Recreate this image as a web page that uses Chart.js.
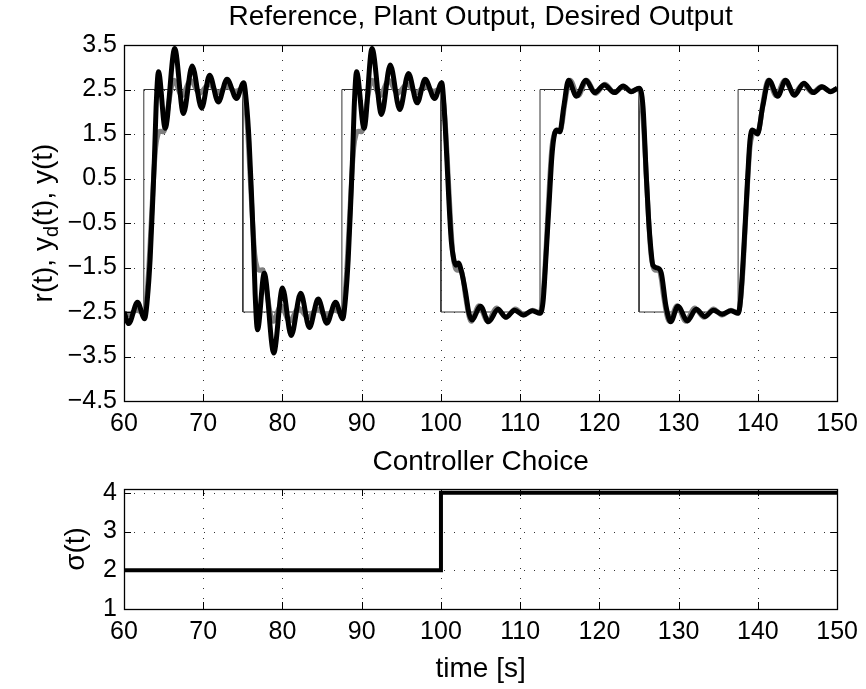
<!DOCTYPE html>
<html>
<head>
<meta charset="utf-8">
<script src="https://cdn.jsdelivr.net/npm/chart.js@4.4.0/dist/chart.umd.min.js"></script>
<style>
  body { margin: 0; background: #fff; }
  #wrap { position: relative; width: 866px; height: 689px; }
  canvas { position: absolute; left: 0; }
</style>
</head>
<body>
<div id="wrap">
  <canvas id="top" width="866" height="440" style="top:0"></canvas>
  <canvas id="bottom" width="866" height="249" style="top:440px"></canvas>
</div>
<script>
// tick labels
const xTicks = [60, 70, 80, 90, 100, 110, 120, 130, 140, 150];
const yTicksTop = [-4.5, -3.5, -2.5, -1.5, -0.5, 0.5, 1.5, 2.5, 3.5];
const yTicksBottom = [1, 2, 3, 4];

// reference r(t)
const refT = [60, 62.5, 62.5, 75, 75, 87.5, 87.5, 100, 100, 112.5, 112.5, 125, 125, 137.5, 137.5, 150];
const refY = [-2.5, -2.5, 2.5, 2.5, -2.5, -2.5, 2.5, 2.5, -2.5, -2.5, 2.5, 2.5, -2.5, -2.5, 2.5, 2.5];

// desired output y_d(t)
const desiredT = [
  60, 60.5, 61.6, 62.5,
  62.8, 63.1, 63.4, 63.7, 64.0, 64.3, 64.6, 65.0, 65.3, 65.6, 66.3, 67.3, 68.4, 69.5, 70.7, 71.9, 73.0, 74.1, 75.0,
  75.3, 75.6, 75.9, 76.2, 76.5, 76.8, 77.1, 77.5, 77.8, 78.1, 78.8, 79.8, 80.9, 82.0, 83.2, 84.4, 85.5, 86.6, 87.5,
  87.8, 88.1, 88.4, 88.7, 89.0, 89.3, 89.6, 90.0, 90.3, 90.6, 91.3, 92.3, 93.4, 94.5, 95.7, 96.9, 98.0, 99.1, 100.0,
  100.3, 100.6, 100.9, 101.2, 101.5, 101.8, 102.1, 102.5, 102.8, 103.1, 103.8, 104.8, 105.9, 107.0, 108.2, 109.4, 110.5, 111.6, 112.5,
  112.8, 113.1, 113.4, 113.7, 114.0, 114.3, 114.6, 115.0, 115.3, 115.6, 116.3, 117.3, 118.4, 119.5, 120.7, 121.9, 123.0, 124.1, 125.0,
  125.3, 125.6, 125.9, 126.2, 126.5, 126.8, 127.1, 127.5, 127.8, 128.1, 128.8, 129.8, 130.9, 132.0, 133.2, 134.4, 135.5, 136.6, 137.5,
  137.8, 138.1, 138.4, 138.7, 139.0, 139.3, 139.6, 140.0, 140.3, 140.6, 141.3, 142.3, 143.4, 144.5, 145.7, 146.9, 148.0, 149.1, 150.0
];
const desiredY = [
  -2.54, -2.57, -2.46, -2.52,
  -2.25, -1.6, -0.6, 0.4, 1.2, 1.5, 1.56, 1.55, 1.75, 2.15, 2.71, 2.36, 2.71, 2.41, 2.62, 2.43, 2.57, 2.46, 2.52,
  2.25, 1.6, 0.6, -0.4, -1.2, -1.5, -1.56, -1.55, -1.75, -2.15, -2.71, -2.36, -2.71, -2.41, -2.62, -2.43, -2.57, -2.46, -2.52,
  -2.25, -1.6, -0.6, 0.4, 1.2, 1.5, 1.56, 1.55, 1.75, 2.15, 2.71, 2.36, 2.71, 2.41, 2.62, 2.43, 2.57, 2.46, 2.52,
  2.25, 1.6, 0.6, -0.4, -1.2, -1.5, -1.56, -1.55, -1.75, -2.15, -2.71, -2.36, -2.71, -2.41, -2.62, -2.43, -2.57, -2.46, -2.52,
  -2.25, -1.6, -0.6, 0.4, 1.2, 1.5, 1.56, 1.55, 1.75, 2.15, 2.71, 2.36, 2.71, 2.41, 2.62, 2.43, 2.57, 2.46, 2.52,
  2.25, 1.6, 0.6, -0.4, -1.2, -1.5, -1.56, -1.55, -1.75, -2.15, -2.71, -2.36, -2.71, -2.41, -2.62, -2.43, -2.57, -2.46, -2.52,
  -2.25, -1.6, -0.6, 0.4, 1.2, 1.5, 1.56, 1.55, 1.75, 2.15, 2.71, 2.36, 2.71, 2.41, 2.62, 2.43, 2.57, 2.46, 2.52
];

// plant output y(t)
const plantT = [
  60.0, 60.6, 61.7, 62.6,
  62.95, 63.3, 63.6, 63.85, 64.05, 64.35, 65.2, 66.4, 67.5, 68.6, 69.8, 70.8, 71.9, 73.0, 74.2, 75.1,
  75.45, 75.8, 76.1, 76.35, 76.55, 76.85, 77.7, 78.9, 80.0, 81.1, 82.3, 83.4, 84.5, 85.6, 86.7, 87.6,
  87.95, 88.3, 88.6, 88.85, 89.05, 89.35, 90.3, 91.3, 92.5, 93.6, 94.8, 95.9, 97.0, 98.0, 99.2, 100.1,
  100.4, 100.7, 101.0, 101.3, 101.6, 101.9, 102.2, 102.6, 103.1, 103.5, 103.9, 105.0, 106.0, 107.2, 108.2, 109.3, 110.4, 111.5, 112.5,
  112.9, 113.3, 113.7, 114.0, 114.3, 114.6, 115.0, 115.5, 116.1, 117.1, 118.3, 119.4, 120.6, 121.9, 123.0, 124.0, 125.0,
  125.5, 125.9, 126.2, 126.5, 126.75, 127.3, 127.8, 128.4, 129.0, 129.9, 131.1, 132.2, 133.3, 134.4, 135.5, 136.6, 137.5,
  137.8, 138.4, 138.7, 139.0, 139.3, 139.95, 140.6, 141.4, 142.5, 143.5, 144.6, 145.8, 147.0, 148.1, 149.2, 150.0
];
const plantY = [
  -2.50, -2.76, -2.28, -2.65,
  -2.2, -1.3, -0.1, 1.0, 2.1, 2.9, 1.63, 3.42, 1.96, 3.03, 2.08, 2.82, 2.22, 2.73, 2.30, 2.65,
  2.2, 1.3, 0.1, -1.0, -2.1, -2.9, -1.63, -3.42, -1.96, -3.03, -2.08, -2.85, -2.21, -2.75, -2.28, -2.65,
  -2.2, -1.3, -0.1, 1.0, 2.1, 2.9, 1.63, 3.42, 1.94, 3.05, 2.05, 2.86, 2.2, 2.73, 2.3, 2.65,
  2.1, 1.1, 0.0, -0.9, -1.3, -1.45, -1.40, -1.6, -2.05, -2.5, -2.68, -2.37, -2.72, -2.44, -2.62, -2.46, -2.57, -2.47, -2.53,
  -2.24, -1.12, 0.1, 1.0, 1.47, 1.59, 1.55, 2.11, 2.71, 2.35, 2.71, 2.43, 2.6, 2.43, 2.58, 2.45, 2.53,
  2.11, 0.61, -0.4, -1.1, -1.45, -1.51, -1.62, -2.37, -2.72, -2.37, -2.70, -2.44, -2.60, -2.46, -2.55, -2.47, -2.53,
  -2.24, -0.5, 0.5, 1.36, 1.59, 1.5, 2.11, 2.71, 2.35, 2.71, 2.37, 2.64, 2.43, 2.56, 2.45, 2.53
];

// controller choice sigma(t)
const sigmaT = [60, 100, 100, 150];
const sigmaY = [2, 2, 4, 4];

const FONT = '"Liberation Sans", Arial, Helvetica, sans-serif';
const TICK_SIZE = 25;
const LABEL_SIZE = 28;
const SUB_SIZE = 20;

const pts = (ts, ys) => ts.map((t, i) => ({ x: t, y: ys[i] }));
const fmt = v => String(v).replace('-', '\u2212');

// matlab style axes: dotted grid, box, inward ticks, titles
function matlabAxes(cfg) {
  return {
    id: 'matlabAxes',
    beforeDatasetsDraw(chart) {
      const { ctx, chartArea: a, scales: { x, y } } = chart;
      ctx.save();
      ctx.strokeStyle = 'rgba(0,0,0,0.8)';
      ctx.lineWidth = 1;
      ctx.setLineDash([1, 9]);
      x.ticks.forEach(t => {
        const px = Math.round(x.getPixelForValue(t.value)) + 0.5;
        if (px <= a.left + 1 || px >= a.right - 1) return;
        ctx.beginPath(); ctx.moveTo(px, a.bottom); ctx.lineTo(px, a.top); ctx.stroke();
      });
      y.ticks.forEach(t => {
        const py = Math.round(y.getPixelForValue(t.value)) + 0.5;
        if (py <= a.top + 1 || py >= a.bottom - 1) return;
        ctx.beginPath(); ctx.moveTo(a.left, py); ctx.lineTo(a.right, py); ctx.stroke();
      });
      ctx.restore();
    },
    afterDatasetsDraw(chart) {
      const { ctx, chartArea: a, scales: { x, y } } = chart;
      const tl = 7;
      ctx.save();
      ctx.strokeStyle = '#000';
      ctx.lineWidth = 1;
      ctx.beginPath();
      x.ticks.forEach(t => {
        const px = Math.round(x.getPixelForValue(t.value)) + 0.5;
        ctx.moveTo(px, a.bottom); ctx.lineTo(px, a.bottom - tl);
        ctx.moveTo(px, a.top); ctx.lineTo(px, a.top + tl);
      });
      y.ticks.forEach(t => {
        const py = Math.round(y.getPixelForValue(t.value)) + 0.5;
        ctx.moveTo(a.left, py); ctx.lineTo(a.left + tl, py);
        ctx.moveTo(a.right, py); ctx.lineTo(a.right - tl, py);
      });
      ctx.stroke();
      ctx.lineWidth = 1.3;
      ctx.strokeRect(Math.round(a.left) + 0.5, Math.round(a.top) + 0.5,
                     Math.round(a.right - a.left), Math.round(a.bottom - a.top));
      ctx.restore();
    },
    afterDraw(chart) {
      const { ctx, chartArea: a } = chart;
      const cx = (a.left + a.right) / 2;
      ctx.save();
      ctx.fillStyle = '#000';
      ctx.textAlign = 'center';
      ctx.textBaseline = 'middle';
      ctx.font = `${LABEL_SIZE}px ${FONT}`;
      if (cfg.title) ctx.fillText(cfg.title, cx, cfg.titleY);
      if (cfg.xLabel) ctx.fillText(cfg.xLabel, cx, cfg.xLabelY);
      // rotated y label, parts with optional subscript
      ctx.translate(cfg.yLabelX, (a.top + a.bottom) / 2);
      ctx.rotate(-Math.PI / 2);
      ctx.textAlign = 'left';
      const widths = cfg.yLabel.map(p => {
        ctx.font = `${p.sub ? SUB_SIZE : LABEL_SIZE}px ${FONT}`;
        return ctx.measureText(p.text).width;
      });
      let xx = -widths.reduce((s, w) => s + w, 0) / 2;
      cfg.yLabel.forEach((p, i) => {
        ctx.font = `${p.sub ? SUB_SIZE : LABEL_SIZE}px ${FONT}`;
        ctx.fillText(p.text, xx, p.sub ? 8 : 0);
        xx += widths[i];
      });
      ctx.restore();
    }
  };
}

function axisOptions(yMin, yMax, yTicks, padTop, xHeight) {
  const tickFont = { family: FONT, size: TICK_SIZE };
  return {
    responsive: false,
    animation: false,
    devicePixelRatio: 1,
    layout: { padding: { top: padTop, right: 26, left: 0, bottom: 0 } },
    plugins: { legend: { display: false }, tooltip: { enabled: false }, title: { display: false } },
    elements: { point: { radius: 0 } },
    scales: {
      x: {
        type: 'linear', min: 60, max: 150,
        grid: { display: false, drawTicks: false }, border: { display: false },
        afterBuildTicks: s => { s.ticks = xTicks.map(v => ({ value: v })); },
        afterFit: s => { s.height = xHeight; },
        ticks: { color: '#000', font: tickFont, padding: 8, maxRotation: 0, autoSkip: false, callback: fmt }
      },
      y: {
        type: 'linear', min: yMin, max: yMax,
        grid: { display: false, drawTicks: false }, border: { display: false },
        afterBuildTicks: s => { s.ticks = yTicks.map(v => ({ value: v })); },
        afterFit: s => { s.width = 124; },
        ticks: { color: '#000', font: tickFont, padding: 7, autoSkip: false, callback: fmt }
      }
    }
  };
}

new Chart(document.getElementById('top'), {
  type: 'line',
  data: {
    datasets: [
      { label: 'y(t)', data: pts(plantT, plantY), borderColor: '#000', borderWidth: 5,
        cubicInterpolationMode: 'monotone', order: 1 },
      { label: 'y_d(t)', data: pts(desiredT, desiredY), borderColor: '#808080', borderWidth: 5,
        cubicInterpolationMode: 'monotone', order: 2 },
      { label: 'r(t)', data: pts(refT, refY), borderColor: '#333', borderWidth: 1, tension: 0, order: 3 }
    ]
  },
  options: axisOptions(-4.5, 3.5, yTicksTop, 45, 39),
  plugins: [matlabAxes({
    title: 'Reference, Plant Output, Desired Output', titleY: 17,
    yLabelX: 44,
    yLabel: [{ text: 'r(t), y' }, { text: 'd', sub: true }, { text: '(t), y(t)' }]
  })]
});

new Chart(document.getElementById('bottom'), {
  type: 'line',
  data: {
    datasets: [
      { label: 'sigma(t)', data: pts(sigmaT, sigmaY), borderColor: '#000', borderWidth: 4, tension: 0 }
    ]
  },
  options: axisOptions(1, 4.1, yTicksBottom, 49, 80),
  plugins: [matlabAxes({
    title: 'Controller Choice', titleY: 22,
    xLabel: 'time [s]', xLabelY: 229,
    yLabelX: 76,
    yLabel: [{ text: '\u03C3(t)' }]
  })]
});
</script>
</body>
</html>
